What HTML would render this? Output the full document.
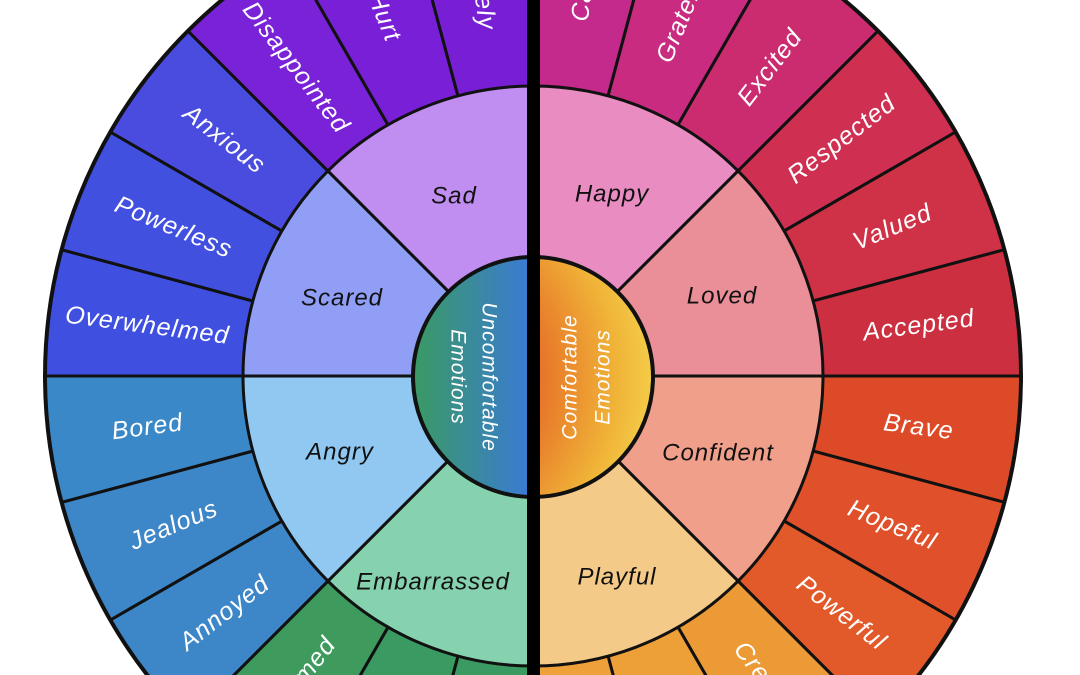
<!DOCTYPE html>
<html><head><meta charset="utf-8"><style>
html,body{margin:0;padding:0;background:#fff;width:1080px;height:675px;overflow:hidden}
#w{position:relative;width:1080px;height:675px;overflow:hidden}
svg{display:block}
.o{fill:#fff;font-family:"Liberation Sans",sans-serif;font-style:italic;font-size:25px;letter-spacing:1px}
.m{fill:#111;font-family:"Liberation Sans",sans-serif;font-style:italic;font-size:24px;letter-spacing:1px}
.i{fill:#fff;font-family:"Liberation Sans",sans-serif;font-style:italic;font-size:21px;letter-spacing:1px}
</style></head><body><div id="w">
<svg width="1080" height="675" viewBox="0 0 1080 675" overflow="hidden">
<defs>
<path id="ow" d="M0 0 L488 0 A488 488 0 0 1 471.37 126.30 Z"/>
<path id="mw" d="M0 0 L290 0 A290 290 0 0 1 205.06 205.06 Z"/>
<linearGradient id="gl" x1="0" y1="0" x2="1" y2="0">
<stop offset="0" stop-color="#3a9a62"/><stop offset="0.5" stop-color="#3a7ad8"/><stop offset="1" stop-color="#5a2ee0"/></linearGradient>
<radialGradient id="gr" cx="0.02" cy="0.5" r="0.98">
<stop offset="0" stop-color="#d02a80"/><stop offset="0.25" stop-color="#dc3a3a"/><stop offset="0.55" stop-color="#e87a2a"/><stop offset="0.85" stop-color="#f0b438"/><stop offset="1" stop-color="#f4cc48"/></radialGradient>
<clipPath id="cl"><rect x="0" y="0" width="533" height="675"/></clipPath>
<clipPath id="cr"><rect x="533" y="0" width="547" height="675"/></clipPath>
<clipPath id="all"><rect x="0" y="0" width="1080" height="675"/></clipPath>
</defs>
<g clip-path="url(#all)">
<g transform="translate(533,376)" stroke="#111" stroke-width="3" stroke-linejoin="round">
<use href="#ow" transform="rotate(-90)" fill="#c42a8c"/>
<use href="#ow" transform="rotate(-75)" fill="#c82b80"/>
<use href="#ow" transform="rotate(-60)" fill="#cb2c70"/>
<use href="#ow" transform="rotate(-45)" fill="#cf3052"/>
<use href="#ow" transform="rotate(-30)" fill="#cf3246"/>
<use href="#ow" transform="rotate(-15)" fill="#cc3040"/>
<use href="#ow" transform="rotate(0)" fill="#dc4a28"/>
<use href="#ow" transform="rotate(15)" fill="#e0502a"/>
<use href="#ow" transform="rotate(30)" fill="#e35a2a"/>
<use href="#ow" transform="rotate(45)" fill="#ec9a35"/>
<use href="#ow" transform="rotate(60)" fill="#eea038"/>
<use href="#ow" transform="rotate(75)" fill="#eea03a"/>
<use href="#ow" transform="rotate(90)" fill="#3a9a62"/>
<use href="#ow" transform="rotate(105)" fill="#3a9a62"/>
<use href="#ow" transform="rotate(120)" fill="#3f9a5e"/>
<use href="#ow" transform="rotate(135)" fill="#3d86c8"/>
<use href="#ow" transform="rotate(150)" fill="#3d86c8"/>
<use href="#ow" transform="rotate(165)" fill="#3a88c8"/>
<use href="#ow" transform="rotate(180)" fill="#3f4fe0"/>
<use href="#ow" transform="rotate(195)" fill="#4250e0"/>
<use href="#ow" transform="rotate(210)" fill="#4a4cdf"/>
<use href="#ow" transform="rotate(225)" fill="#7a22d8"/>
<use href="#ow" transform="rotate(240)" fill="#7a1fd8"/>
<use href="#ow" transform="rotate(255)" fill="#781fd6"/>

<use href="#mw" transform="rotate(-90)" fill="#e88cc2"/>
<use href="#mw" transform="rotate(-45)" fill="#ea8e98"/>
<use href="#mw" transform="rotate(0)" fill="#f0a08a"/>
<use href="#mw" transform="rotate(45)" fill="#f4ca88"/>
<use href="#mw" transform="rotate(90)" fill="#86d2ae"/>
<use href="#mw" transform="rotate(135)" fill="#90c8f2"/>
<use href="#mw" transform="rotate(180)" fill="#909ff5"/>
<use href="#mw" transform="rotate(225)" fill="#c08ef0"/>
<circle r="488" fill="none" stroke-width="4"/>
</g>
<circle cx="533" cy="377" r="120" fill="url(#gl)" clip-path="url(#cl)"/>
<circle cx="533" cy="377" r="120" fill="url(#gr)" clip-path="url(#cr)"/>
<circle cx="533" cy="377" r="120" fill="none" stroke="#111" stroke-width="4"/>
<rect x="527" y="0" width="13" height="675" fill="#000"/>

<g class="o" text-anchor="middle" dominant-baseline="central">
<text transform="translate(533,376) rotate(-82.5) translate(389,0)">Calm</text>
<text transform="translate(533,376) rotate(-67.5) translate(389,0)">Grateful</text>
<text transform="translate(533,376) rotate(-52.5) translate(389,0)">Excited</text>
<text transform="translate(533,376) rotate(-37.5) translate(389,0)">Respected</text>
<text transform="translate(533,376) rotate(-22.5) translate(389,0)">Valued</text>
<text transform="translate(533,376) rotate(-7.5) translate(389,0)">Accepted</text>
<text transform="translate(533,376) rotate(7.5) translate(389,0)">Brave</text>
<text transform="translate(533,376) rotate(22.5) translate(389,0)">Hopeful</text>
<text transform="translate(533,376) rotate(37.5) translate(389,0)">Powerful</text>
<text transform="translate(533,376) rotate(52.5) translate(389,0)">Creative</text>
<text transform="translate(533,376) rotate(67.5) translate(389,0)">Silly</text>
<text transform="translate(533,376) rotate(82.5) translate(389,0)">Curious</text>
<text transform="translate(533,376) rotate(97.5) translate(389,0) rotate(180)">Awkward</text>
<text transform="translate(533,376) rotate(112.5) translate(389,0) rotate(180)">Guilty</text>
<text transform="translate(533,376) rotate(127.5) translate(389,0) rotate(180)">Ashamed</text>
<text transform="translate(533,376) rotate(142.5) translate(389,0) rotate(180)">Annoyed</text>
<text transform="translate(533,376) rotate(157.5) translate(389,0) rotate(180)">Jealous</text>
<text transform="translate(533,376) rotate(172.5) translate(389,0) rotate(180)">Bored</text>
<text transform="translate(533,376) rotate(187.5) translate(389,0) rotate(180)">Overwhelmed</text>
<text transform="translate(533,376) rotate(202.5) translate(389,0) rotate(180)">Powerless</text>
<text transform="translate(533,376) rotate(217.5) translate(389,0) rotate(180)">Anxious</text>
<text transform="translate(533,376) rotate(232.5) translate(389,0) rotate(180)">Disappointed</text>
<text transform="translate(533,376) rotate(247.5) translate(389,0) rotate(180)">Hurt</text>
<text transform="translate(533,376) rotate(262.5) translate(389,0) rotate(180)">Lonely</text>
</g>
<g class="m" text-anchor="middle" dominant-baseline="central">
<text x="454" y="196">Sad</text>
<text x="612" y="194">Happy</text>
<text x="342" y="298">Scared</text>
<text x="722" y="296">Loved</text>
<text x="340" y="452">Angry</text>
<text x="718" y="453">Confident</text>
<text x="433" y="582">Embarrassed</text>
<text x="617" y="577">Playful</text>
</g>
<g class="i" text-anchor="middle" dominant-baseline="central">
<text transform="translate(489,377) rotate(90)">Uncomfortable</text>
<text transform="translate(458,377) rotate(90)">Emotions</text>
<text transform="translate(570,377) rotate(-90)">Comfortable</text>
<text transform="translate(603,377) rotate(-90)">Emotions</text>
</g>
</g>
</svg>
</div></body></html>
